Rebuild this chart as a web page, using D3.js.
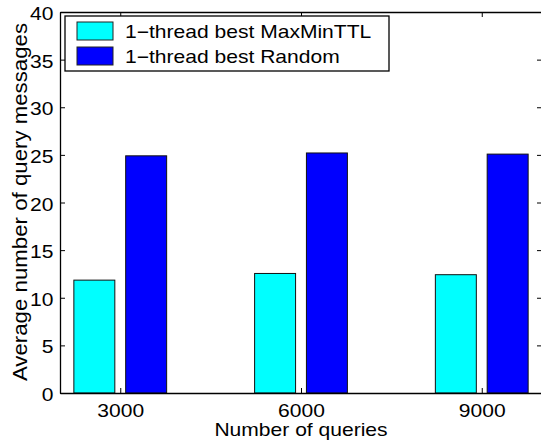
<!DOCTYPE html>
<html>
<head>
<meta charset="utf-8">
<script src="https://cdn.jsdelivr.net/npm/d3@7"></script>
<style>
  body { margin: 0; background: #fff; }
  svg { display: block; font-family: "Liberation Sans", Arial, sans-serif; }
</style>
</head>
<body>
<svg width="541" height="444"></svg>
<script>
// data
var queries = [3000, 6000, 9000];
var maxMinTTL = [11.85, 12.55, 12.42];
var randomSel = [24.9, 25.2, 25.08];
var seriesNames = ["1\u2212thread best MaxMinTTL", "1\u2212thread best Random"];
var seriesColors = ["#00ffff", "#0000ff"];
var yTicks = [0, 5, 10, 15, 20, 25, 30, 35, 40];

var svg = d3.select("svg"),
    margin = {top: 12, right: -1, bottom: 51, left: 60},
    width = +svg.attr("width") - margin.left - margin.right,
    height = +svg.attr("height") - margin.top - margin.bottom,
    g = svg.append("g").attr("transform", "translate(" + margin.left + "," + margin.top + ")");

var x = d3.scaleLinear().domain([2000, 10000]).range([0, width]);
var y = d3.scaleLinear().domain([0, 40]).range([height, 0]);

// the exported figure uses a wide helvetica, so stretch text a bit
var stretch = 1.17;

var barW = 680, offset = 430;
var series = [maxMinTTL, randomSel];

// bars
series.forEach(function(vals, s) {
  g.selectAll(".bar" + s)
    .data(vals)
    .enter().append("rect")
      .attr("x", function(d, i) { return x(queries[i] + (s === 0 ? -offset : offset) - barW / 2); })
      .attr("width", x(barW) - x(0))
      .attr("y", function(d) { return y(d); })
      .attr("height", function(d) { return y(0) - y(d); })
      .attr("fill", seriesColors[s])
      .attr("stroke", "#111")
      .attr("stroke-width", 1);
});

// axes, ticks pointing inwards like matlab
var tickLen = 5;
var xAxis = g.append("g")
    .attr("transform", "translate(0," + height + ")")
    .call(d3.axisBottom(x).tickValues(queries).tickFormat(d3.format("d"))
      .tickSize(-tickLen).tickPadding(11).tickSizeOuter(0));
var xTop = g.append("g")
    .call(d3.axisTop(x).tickValues(queries).tickSize(-tickLen).tickFormat("").tickSizeOuter(0));
var yAxis = g.append("g")
    .call(d3.axisLeft(y).tickValues(yTicks).tickSize(-tickLen).tickPadding(5.6).tickSizeOuter(0));
var yRight = g.append("g")
    .attr("transform", "translate(" + width + ",0)")
    .call(d3.axisRight(y).tickValues(yTicks).tickSize(-tickLen).tickFormat("").tickSizeOuter(0));

[xAxis, xTop, yAxis, yRight].forEach(function(a) {
  a.selectAll("text").attr("font-size", 18).attr("fill", "#000")
    .attr("transform", "scale(" + stretch + ",1)")
    .style("font-family", "'Liberation Sans', Arial, sans-serif");
  a.select(".domain").attr("stroke", "#000").attr("stroke-width", 1.3);
  a.selectAll(".tick line").attr("stroke", "#000");
});
yAxis.selectAll("text").attr("dy", "0.42em");

// axis labels
svg.append("text")
    .attr("transform", "translate(" + (margin.left + x(6000)) + ",436) scale(" + stretch + ",1)")
    .attr("text-anchor", "middle")
    .attr("font-size", 18)
    .text("Number of queries");

svg.append("text")
    .attr("transform", "translate(26.5,202) rotate(-90) scale(1.06,1)")
    .attr("text-anchor", "middle")
    .attr("font-size", 21)
    .text("Average number of query messages");

// legend
var legend = svg.append("g").attr("transform", "translate(65,16)");
legend.append("rect")
    .attr("width", 324).attr("height", 55)
    .attr("fill", "#fff").attr("stroke", "#000").attr("stroke-width", 1.3);
seriesNames.forEach(function(name, i) {
  legend.append("rect")
      .attr("x", 12).attr("y", 6 + i * 25)
      .attr("width", 36).attr("height", 18)
      .attr("fill", seriesColors[i]).attr("stroke", "#222");
  legend.append("text")
      .attr("transform", "translate(60," + (22 + i * 25) + ") scale(" + stretch + ",1)")
      .attr("font-size", 18)
      .text(name);
});
</script>
</body>
</html>
